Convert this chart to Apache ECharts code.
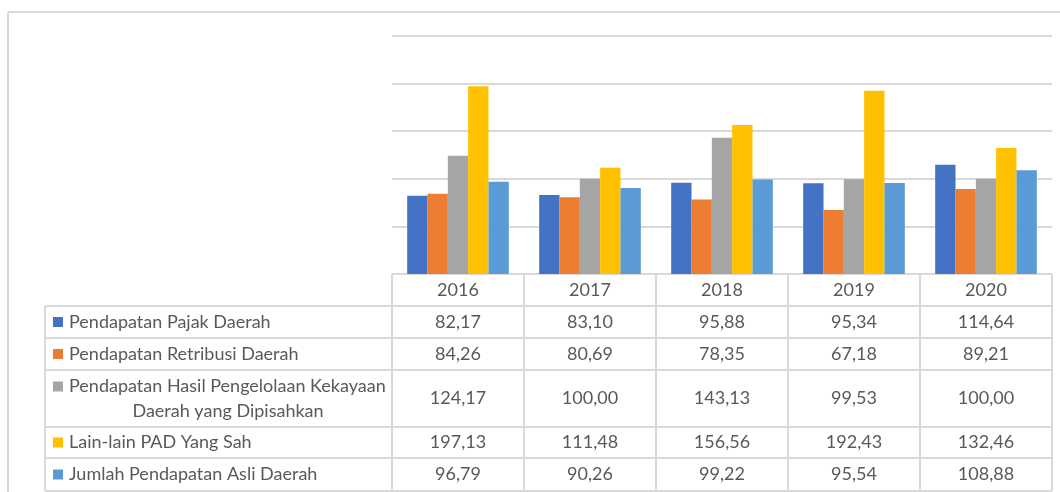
<!DOCTYPE html>
<html>
<head>
<meta charset="utf-8">
<script src="https://cdn.jsdelivr.net/npm/echarts@6/dist/echarts.min.js"></script>
<style>
  html, body { margin: 0; padding: 0; background: #fff; }
  #chart { width: 1060px; height: 492px; }
</style>
</head>
<body>
<div id="chart"></div>
<script>
// data
var years = ["2016", "2017", "2018", "2019", "2020"]
var seriesNames = [
  "Pendapatan Pajak Daerah",
  "Pendapatan Retribusi Daerah",
  "Pendapatan Hasil Pengelolaan Kekayaan\nDaerah yang Dipisahkan",
  "Lain-lain PAD Yang Sah",
  "Jumlah Pendapatan Asli Daerah"
]
var pajak = [82.17, 83.10, 95.88, 95.34, 114.64]
var retribusi = [84.26, 80.69, 78.35, 67.18, 89.21]
var kekayaan = [124.17, 100.00, 143.13, 99.53, 100.00]
var lainLain = [197.13, 111.48, 156.56, 192.43, 132.46]
var jumlah = [96.79, 90.26, 99.22, 95.54, 108.88]
var yTicks = [0, 50, 100, 150, 200, 250]

var allValues = [pajak, retribusi, kekayaan, lainLain, jumlah]
var colors = ["#4472C4", "#ED7D31", "#A5A5A5", "#FFC000", "#5B9BD5"]

var font = "18px Lato, 'Liberation Sans', sans-serif"
var textColor = "#595959"
var lineColor = "#d9d9d9"

// table layout (pixels)
var tableLeft = 45
var headerTop = 274
var rowEdges = [306, 338, 370, 427, 458, 491]

var fmt = function (v) { return v.toFixed(2).replace(".", ",") }

var myChart = echarts.init(document.getElementById("chart"))

myChart.setOption({
  animation: false,
  backgroundColor: "#fff",
  grid: { left: 392, right: 8, top: 36, bottom: 218 },
  xAxis: {
    type: "category",
    data: years,
    axisLine: { show: false },
    axisTick: { show: false },
    axisLabel: { show: false }
  },
  yAxis: {
    type: "value",
    min: yTicks[0],
    max: yTicks[yTicks.length - 1],
    interval: yTicks[1] - yTicks[0],
    axisLine: { show: false },
    axisTick: { show: false },
    axisLabel: { show: false },
    splitLine: { lineStyle: { color: lineColor, width: 2 } }
  },
  series: allValues.map(function (vals, i) {
    return {
      type: "bar",
      name: seriesNames[i],
      data: vals,
      barGap: "0%",
      barCategoryGap: "23%",
      itemStyle: { color: colors[i] }
    }
  })
})

// build the data table under the plot
var colEdge = function (i) {
  var c0 = myChart.convertToPixel({ xAxisIndex: 0 }, 0)
  var c1 = myChart.convertToPixel({ xAxisIndex: 0 }, 1)
  var w = c1 - c0
  return c0 - w / 2 + i * w
}
var right = colEdge(years.length)
var bottom = rowEdges[rowEdges.length - 1]
var g = []
var line = function (x1, y1, x2, y2) {
  g.push({ type: "line", shape: { x1: x1, y1: y1, x2: x2, y2: y2 },
    style: { stroke: lineColor, lineWidth: 2 }, silent: true })
}
var text = function (x, y, s, align) {
  g.push({ type: "text", x: x, y: y, silent: true,
    style: { text: s, fill: textColor, font: font, align: align, verticalAlign: "middle" } })
}

// outer frame
line(8, 12, 1060, 12)
line(8, 12, 8, 492)

// horizontal lines
line(colEdge(0), headerTop, right, headerTop)
rowEdges.forEach(function (y) { line(tableLeft, y, right, y) })
// vertical lines
line(tableLeft, rowEdges[0], tableLeft, bottom)
for (var i = 0; i <= years.length; i++) line(colEdge(i), headerTop, colEdge(i), bottom)

// header
years.forEach(function (y, i) {
  text((colEdge(i) + colEdge(i + 1)) / 2, (headerTop + rowEdges[0]) / 2, y, "center")
})

// rows
allValues.forEach(function (vals, r) {
  var yMid = (rowEdges[r] + rowEdges[r + 1]) / 2
  var parts = seriesNames[r].split("\n")
  if (parts.length === 1) {
    g.push({ type: "rect", shape: { x: 53, y: yMid - 5, width: 10, height: 10 }, style: { fill: colors[r] } })
    text(69, yMid, parts[0], "left")
  } else {
    g.push({ type: "rect", shape: { x: 53, y: yMid - 17, width: 10, height: 10 }, style: { fill: colors[r] } })
    text(69, yMid - 12, parts[0], "left")
    text(228, yMid + 13, parts[1], "center")
  }
  vals.forEach(function (v, c) {
    text((colEdge(c) + colEdge(c + 1)) / 2, yMid, fmt(v), "center")
  })
})

myChart.setOption({ graphic: g })
</script>
</body>
</html>
